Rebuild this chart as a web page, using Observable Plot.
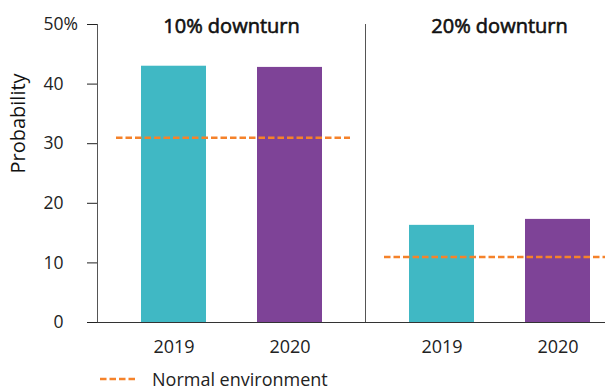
<!DOCTYPE html>
<html><head><meta charset="utf-8">
<script src="https://cdn.jsdelivr.net/npm/d3@7"></script>
<script src="https://cdn.jsdelivr.net/npm/@observablehq/plot@0.6"></script>
<style>
body{margin:0;background:#fff;font-family:"Open Sans",sans-serif;}
#wrap{width:605px;height:392px;overflow:hidden;position:relative;background:#fff;}
#chart svg{max-width:none !important;}
#legend{position:absolute;left:100px;top:368px;height:22px;display:flex;align-items:center;font-size:18px;line-height:22px;color:#222;white-space:nowrap;}
#legend svg{margin-right:17px;}
</style></head><body>
<div id="wrap"><div id="chart"></div>
<div id="legend"><svg width="35" height="6"><line x1="0" x2="35" y1="3" y2="3" stroke="#F5822A" stroke-width="2.5" stroke-dasharray="6.5,3"/></svg><span>Normal environment</span></div>
</div>
<script>
const panels = ["10% downturn", "20% downturn"];
const years = ["2019", "2020"];
const probability2019 = [43, 16.3];
const probability2020 = [42.8, 17.3];
const normalEnvironment = [31, 11];
const yTicks = [0, 10, 20, 30, 40, 50];
const yearColors = ["#40B8C4", "#7E4397"];

const bars = panels.flatMap((p, i) => [
  {panel: p, year: years[0], value: probability2019[i]},
  {panel: p, year: years[1], value: probability2020[i]}
]);
const normals = panels.map((p, i) => ({panel: p, value: normalEnvironment[i]}));

const chart = Plot.plot({
  width: 633,
  height: 362,
  marginLeft: 97,
  marginRight: 0,
  marginTop: 24,
  marginBottom: 40,
  style: {fontFamily: "'Open Sans', sans-serif", fontSize: "18px", color: "#222", background: "white", maxWidth: "none"},
  fx: {domain: panels, axis: null, padding: 0},
  x: {domain: years, paddingInner: 0.44, paddingOuter: 0.375, axis: null},
  y: {domain: [0, 50], axis: null},
  color: {domain: years, range: yearColors},
  marks: [
    Plot.barY(bars, {fx: "panel", x: "year", y: "value", fill: "year"}),
    Plot.ruleY(normals, {fx: "panel", y: "value", stroke: "#F5822A", strokeWidth: 2.5, strokeDasharray: "6.5,3", insetLeft: 19, insetRight: 15}),
    Plot.frame({anchor: "left", stroke: "#555"}),
    Plot.ruleY([0], {stroke: "#333"}),
    Plot.axisY({ticks: yTicks, tickSize: 10, tickPadding: 24, tickFormat: d => String(d), label: null, fontSize: 17.5, color: "#222"}),
    Plot.text([50], {fx: () => panels[0], y: d => d, text: () => "%", frameAnchor: "left", textAnchor: "start", dx: -34, fontSize: 17.5, fill: "#222"}),
    Plot.axisX({tickSize: 0, tickPadding: 18, fontSize: 18, label: null, color: "#222"}),
    Plot.text(panels, {fx: d => d, text: d => d, frameAnchor: "top", lineAnchor: "top", dy: -6, fontSize: 20, fontWeight: 400, fill: "#111", stroke: "#111", strokeWidth: 0.6}),
    Plot.text(["Probability"], {fx: () => panels[0], text: d => d, frameAnchor: "left", rotate: -90, dx: -79, fontSize: 20, fill: "#111"})
  ]
});
document.getElementById("chart").appendChild(chart);
</script>
</body></html>
